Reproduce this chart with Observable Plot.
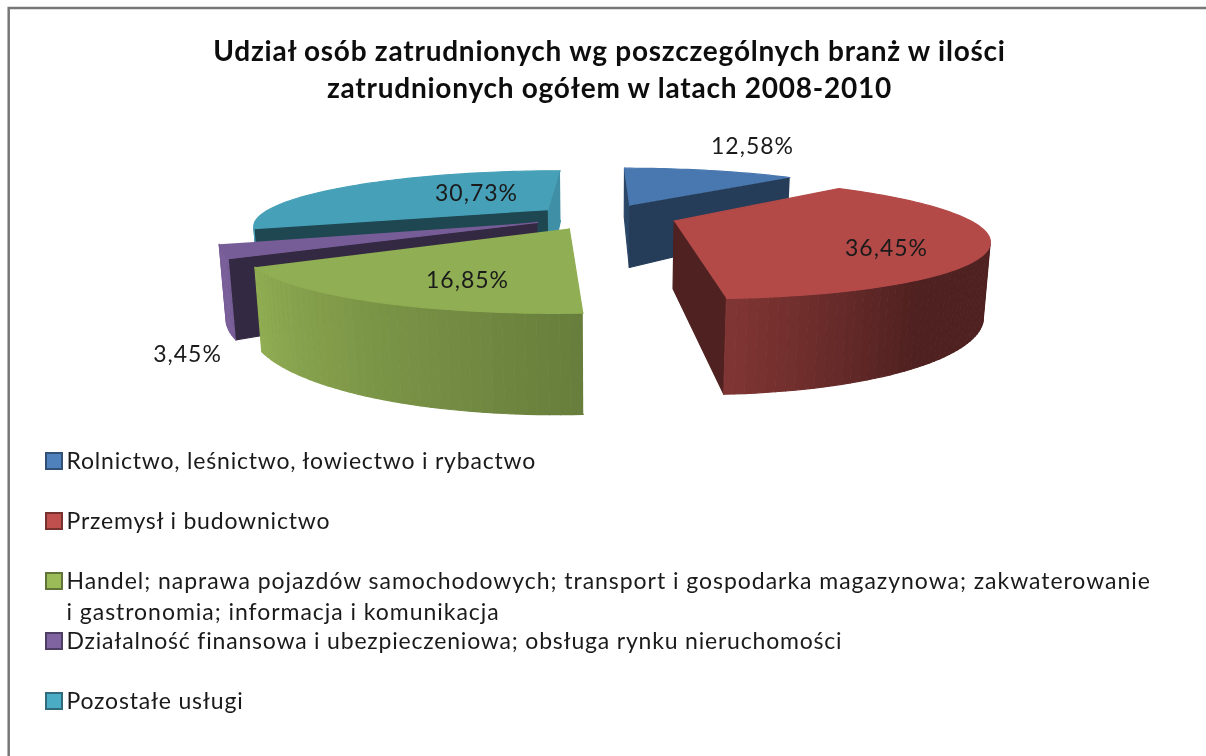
<!DOCTYPE html>
<html>
<head>
<meta charset="utf-8">
<style>html,body{margin:0;padding:0;background:#fff;overflow:hidden}svg{display:block;filter:blur(0.5px)}
.ttl text{letter-spacing:.76px}.lgd text{letter-spacing:.8px}.lgd2 text{letter-spacing:.96px}.lbl text{letter-spacing:1px}</style>
<script src="https://cdn.jsdelivr.net/npm/d3@7"></script>
<script src="https://cdn.jsdelivr.net/npm/@observablehq/plot@0.6"></script>
</head>
<body>
<div id="chart"></div>
<script>
const titleLines = ["Udział osób zatrudnionych wg poszczególnych branż w ilości", "zatrudnionych ogółem w latach 2008-2010"];
const categories = ["Rolnictwo, leśnictwo, łowiectwo i rybactwo", "Przemysł i budownictwo", "Handel; naprawa pojazdów samochodowych; transport i gospodarka magazynowa; zakwaterowanie|i gastronomia; informacja i komunikacja", "Działalność finansowa i ubezpieczeniowa; obsługa rynku nieruchomości", "Pozostałe usługi"];
const values = [12.58, 36.45, 16.85, 3.45, 30.73];
const labels = ["12,58%", "36,45%", "16,85%", "3,45%", "30,73%"];
const baseColors = ["#4F81BD", "#C0504D", "#9BBB59", "#8064A2", "#4BACC6"];

// layout / style, kept apart from the data
const startWallShade = [0.55, 0.41, 0.41, 0.41, 0.41];
const endWallShade = [0.47, 0.41, 0.41, 0.41, 0.84];
const labelAt = [[752, 146], [886, 248], [467, 280], [187, 354], [476, 193]];
const legendY = [[461], [521], [581, 612], [641], [701]];
const paintOrder = [4, 3, 2, 0, 1];
const sliceNudge = [-3, 0, -5, -6, -4];
const cam = {x0: 607, yh: 25, C: 191, C2: 254.4, D: 290, p: 0.277, qx: 0.016, qy: -0.01, e: 0.24};

const shade = (hex, k) => { const c = d3.rgb(hex); return d3.rgb(c.r * k, c.g * k, c.b * k).formatHex(); };
const rimShade = a => a <= 145 ? 0.41 : a <= 176.5 ? 0.41 + (a - 145) / 31.5 * 0.26 : Math.min(0.95, 0.67 + (a - 176.5) / 60.5 * 0.26);
const rad = d => d * Math.PI / 180;

function project(u, v, bottom, nudge) {
  const w = 1 + cam.p * v;
  const x = cam.x0 + nudge + cam.D * u / (w + (bottom ? cam.qx : 0));
  const y = cam.yh + (bottom ? cam.C2 / (w + cam.qy) : cam.C / w);
  return [x, y];
}
const area2 = P => d3.polygonArea(P);

const total = d3.sum(values);
let acc = 0;
const slices = values.map((v, i) => { const s = {i, a0: acc / total * 360}; acc += v; s.a1 = acc / total * 360; return s; });

const pts = [];
let pid = 0;
function addPoly(P, color) { pid++; P.forEach(([x, y]) => pts.push({x, y, id: pid, color})); }

for (const i of paintOrder) {
  const s = slices[i];
  const mid = (s.a0 + s.a1) / 2;
  const ox = cam.e * Math.sin(rad(mid)), oy = cam.e * Math.cos(rad(mid));
  const pos = (a, r) => [ox + r * Math.sin(rad(a)), oy + r * Math.cos(rad(a))];
  const T = (a, r) => project(...pos(a, r), false, sliceNudge[i]);
  const B = (a, r) => project(...pos(a, r), true, sliceNudge[i]);
  const base = baseColors[i];
  const n = Math.max(6, Math.round((s.a1 - s.a0) / 1.5));
  const angs = d3.range(n + 1).map(k => s.a0 + (s.a1 - s.a0) * k / n);
  const startWall = [T(s.a0, 0), T(s.a0, 1), B(s.a0, 1), B(s.a0, 0)];
  const endWall = [T(s.a1, 1), T(s.a1, 0), B(s.a1, 0), B(s.a1, 1)];
  const topPoly = [T(0, 0), ...angs.map(a => T(a, 1))];
  const front = -Math.sign(area2(topPoly));
  if (Math.sign(area2(startWall)) === front) addPoly(startWall, shade(base, startWallShade[i]));
  if (Math.sign(area2(endWall)) === front) addPoly(endWall, shade(base, endWallShade[i]));
  for (let k = 0; k < n; k++) {
    const q = [T(angs[k], 1), T(angs[k + 1], 1), B(angs[k + 1], 1), B(angs[k], 1)];
    if (Math.sign(area2(q)) === front) addPoly(q, shade(base, rimShade((angs[k] + angs[k + 1]) / 2)));
  }
  addPoly(topPoly, shade(base, 0.93));
}

const dataLabels = labels.map((t, i) => ({t, x: labelAt[i][0], y: labelAt[i][1]}));
const legendRows = categories.flatMap((c, i) => c.split("|").map((t, j) => ({t, i, y: legendY[i][j], x: 66})));
const swatches = categories.map((c, i) => ({y: legendY[i][0], f: baseColors[i], s: shade(baseColors[i], 0.62)}));
const titleRows = titleLines.map((t, i) => ({t, x: 609, y: [52, 89][i]}));
const frame = [{x1: 8.7, x2: 1220, y1: 8, y2: 775}];
const font = "Lato, Carlito, sans-serif";

const chart = Plot.plot({
  width: 1206, height: 756,
  margin: 0,
  x: {domain: [0, 1206], range: [0, 1206], axis: null},
  y: {domain: [0, 756], range: [0, 756], axis: null},
  color: {type: "identity"},
  style: {background: "#fff"},
  marks: [
    Plot.rect(frame, {x1: "x1", x2: "x2", y1: "y1", y2: "y2", fill: "#fff", stroke: "#777", strokeWidth: 2.5}),
    Plot.line(pts, {x: "x", y: "y", z: "id", fill: "color", stroke: "color", strokeWidth: 1.2, curve: "linear"}),
    Plot.text(titleRows, {x: "x", y: "y", text: "t", className: "ttl", fontFamily: font, fontWeight: 700, fontSize: 28, fill: "#0d0d0d", textAnchor: "middle"}),
    Plot.text(dataLabels, {x: "x", y: "y", text: "t", className: "lbl", fontFamily: font, fontSize: 23, fill: "#1a1a1a", textAnchor: "middle"}),
    Plot.rect(swatches, {x1: () => 46, x2: () => 62, y1: d => d.y - 8, y2: d => d.y + 8, fill: "f", stroke: "s", strokeWidth: 2}),
    Plot.text(legendRows.filter(d => d.i !== 2), {x: "x", y: "y", text: "t", className: "lgd", fontFamily: font, fontSize: 23, fill: "#1a1a1a", textAnchor: "start"}),
    Plot.text(legendRows.filter(d => d.i === 2), {x: "x", y: "y", text: "t", className: "lgd2", fontFamily: font, fontSize: 23, fill: "#1a1a1a", textAnchor: "start"})
  ]
});
document.getElementById("chart").append(chart);
</script>
</body>
</html>
